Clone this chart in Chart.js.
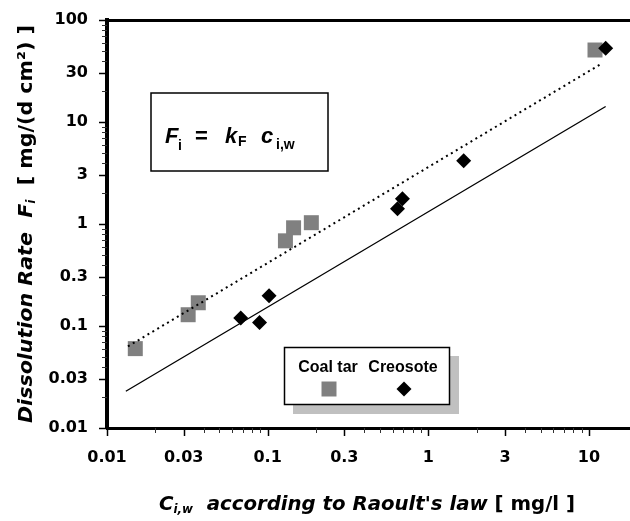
<!DOCTYPE html>
<html>
<head>
<meta charset="utf-8">
<script src="https://cdn.jsdelivr.net/npm/chart.js@4/dist/chart.umd.min.js"></script>
<style>
  html, body { margin: 0; padding: 0; background: #fff; }
  canvas { display: block; }
</style>
</head>
<body>
<canvas id="c" width="630" height="521"></canvas>
<script>
// Measured dissolution rates vs. aqueous concentration (Raoult's law)
const coalTarC  = [0.015, 0.032, 0.037, 0.129, 0.145, 0.187, 10.9];
const coalTarF  = [0.060, 0.129, 0.169, 0.684, 0.918, 1.03, 50.8];
const creosoteC = [0.068, 0.089, 0.102, 0.643, 0.69, 1.66, 12.7];
const creosoteF = [0.120, 0.108, 0.198, 1.41, 1.77, 4.16, 52.8];

// Fitted lines F = kF * c (end points)
const coalTarFitC  = [0.0135, 12.1];
const coalTarFitF  = [0.0631, 37.7];
const creosoteFitC = [0.0131, 12.7];
const creosoteFitF = [0.0229, 14.2];

const xRange = [0.01, 18];
const yRange = [0.01, 100];
const labelledMantissas = [1, 3];
const seriesNames = ['Coal tar', 'Creosote'];

const pts = (xs, ys) => xs.map((x, i) => ({ x, y: ys[i] }));

function logTicks(min, max) {
  const out = [];
  for (let e = Math.floor(Math.log10(min)); e <= Math.ceil(Math.log10(max)); e++) {
    for (let m = 1; m <= 9; m++) {
      const v = +(m * Math.pow(10, e)).toPrecision(6);
      if (v >= min * 0.999 && v <= max * 1.001) out.push({ value: v });
    }
  }
  return out;
}
function mantissa(v) { return Math.round(v / Math.pow(10, Math.floor(Math.log10(v) + 1e-9))); }
function isMajor(v) { return labelledMantissas.includes(mantissa(v)); }
function fmt(v) { return v >= 1 ? String(Math.round(v)) : String(+v.toPrecision(1)); }

const tickFont = { family: 'DejaVu Sans', weight: 'bold', size: 16 };

// Draw a run of differently styled text pieces, stretched to a given length
function drawRun(ctx, x, y, parts, length, vertical) {
  let natural = 0;
  parts.forEach(p => { ctx.font = p.font; p.w = ctx.measureText(p.text).width; natural += p.w; });
  ctx.save();
  ctx.translate(x, y);
  if (vertical) ctx.rotate(-Math.PI / 2);
  ctx.scale(length / natural, 1);
  ctx.fillStyle = '#000';
  ctx.textBaseline = 'alphabetic';
  ctx.textAlign = 'left';
  let cx = 0;
  parts.forEach(p => { ctx.font = p.font; ctx.fillText(p.text, cx, p.dy || 0); cx += p.w; });
  ctx.restore();
}

function drawMarker(ctx, ds, x, y) {
  const r = ds.pointRadius;
  ctx.fillStyle = ds.backgroundColor;
  ctx.beginPath();
  if (ds.pointStyle === 'rect') {
    const s = Math.SQRT1_2 * r;
    ctx.rect(x - s, y - s, 2 * s, 2 * s);
  } else {
    ctx.moveTo(x, y - r); ctx.lineTo(x + r, y); ctx.lineTo(x, y + r); ctx.lineTo(x - r, y);
    ctx.closePath();
  }
  ctx.fill();
}

// keep the plot area fixed regardless of label overhang
function noPadding(s) {
  s.paddingLeft = 0; s.paddingRight = 0; s.paddingTop = 0; s.paddingBottom = 0;
}

const decorations = {
  id: 'decorations',
  afterDraw(chart) {
    const { ctx, chartArea: a, scales: { x, y } } = chart;
    ctx.save();

    // tick marks: long for labelled values, short for the others
    x.ticks.forEach(t => {
      const p = Math.round(x.getPixelForValue(t.value)) + 0.5;
      const major = isMajor(t.value);
      ctx.strokeStyle = major ? '#000' : '#333';
      ctx.lineWidth = major ? 1.5 : 1;
      ctx.beginPath();
      ctx.moveTo(p, a.bottom);
      ctx.lineTo(p, a.bottom + (major ? 8 : 5));
      ctx.stroke();
    });
    y.ticks.forEach(t => {
      const p = Math.round(y.getPixelForValue(t.value)) + 0.5;
      const major = isMajor(t.value);
      ctx.strokeStyle = major ? '#000' : '#333';
      ctx.lineWidth = major ? 1.5 : 1;
      ctx.beginPath();
      ctx.moveTo(a.left, p);
      ctx.lineTo(a.left - (major ? 8 : 5), p);
      ctx.stroke();
    });

    // equation box
    ctx.strokeStyle = '#000';
    ctx.lineWidth = 1.5;
    ctx.strokeRect(151, 93, 177, 78);
    ctx.fillStyle = '#000';
    ctx.textBaseline = 'alphabetic';
    const big = 'italic bold 22px "Liberation Sans", Arial, sans-serif';
    const bigUp = 'bold 22px "Liberation Sans", Arial, sans-serif';
    const sub = 'bold 14px "Liberation Sans", Arial, sans-serif';
    ctx.font = big;   ctx.fillText('F', 165, 143);
    ctx.font = sub;   ctx.fillText('i', 178, 150);
    ctx.font = bigUp; ctx.fillText('=', 195, 143);
    ctx.font = big;   ctx.fillText('k', 225, 143);
    ctx.font = sub;   ctx.fillText('F', 238, 146);
    ctx.font = big;   ctx.fillText('c', 261, 143);
    ctx.font = sub;   ctx.fillText('i,w', 276, 149);

    // legend with drop shadow
    ctx.fillStyle = '#c0c0c0';
    ctx.fillRect(293, 356, 166, 58);
    ctx.fillStyle = '#fff';
    ctx.fillRect(284, 347, 166, 58);
    ctx.strokeStyle = '#000';
    ctx.lineWidth = 1.5;
    ctx.strokeRect(284.5, 347.5, 165, 57);
    ctx.fillStyle = '#000';
    ctx.font = 'bold 16px "Liberation Sans", Arial, sans-serif';
    ctx.textAlign = 'center';
    const tarDs = chart.data.datasets.find(d => d.label === seriesNames[0]);
    const creoDs = chart.data.datasets.find(d => d.label === seriesNames[1]);
    ctx.fillText(seriesNames[0], 328, 372);
    ctx.fillText(seriesNames[1], 403, 372);
    drawMarker(ctx, tarDs, 329, 389);
    drawMarker(ctx, creoDs, 404, 389);
    ctx.restore();

    // axis titles
    const ti = 'italic bold 20px "DejaVu Sans", sans-serif';
    const tn = 'bold 20px "DejaVu Sans", sans-serif';
    const ts = 'italic bold 12px "DejaVu Sans", sans-serif';
    drawRun(ctx, 159, 510, [
      { text: 'C', font: ti },
      { text: 'i,w', font: ts, dy: 3 },
      { text: '  according to Raoult\'s law ', font: ti },
      { text: '[ mg/l ]', font: tn }
    ], 416, false);
    drawRun(ctx, 32, 423, [
      { text: 'Dissolution Rate  F', font: ti },
      { text: 'i', font: ts, dy: 3 },
      { text: '  [ mg/(d cm\u00B2) ]', font: tn }
    ], 398, true);
  }
};

new Chart(document.getElementById('c'), {
  type: 'scatter',
  data: {
    datasets: [
      { label: 'Coal tar fit', data: pts(coalTarFitC, coalTarFitF), showLine: true, pointRadius: 0,
        borderColor: '#000', borderWidth: 2, borderDash: [2, 3.7], order: 0 },
      { label: 'Creosote fit', data: pts(creosoteFitC, creosoteFitF), showLine: true, pointRadius: 0,
        borderColor: '#000', borderWidth: 1.3, order: 0 },
      { label: seriesNames[1], data: pts(creosoteC, creosoteF), pointStyle: 'rectRot', pointRadius: 7.5,
        backgroundColor: '#000', borderWidth: 0, order: 1 },
      { label: seriesNames[0], data: pts(coalTarC, coalTarF), pointStyle: 'rect', pointRadius: 10.6,
        backgroundColor: '#808080', borderWidth: 0, order: 2 }
    ]
  },
  options: {
    responsive: false,
    animation: false,
    devicePixelRatio: 1,
    layout: { padding: 0, autoPadding: false },
    plugins: { legend: { display: false }, tooltip: { enabled: false } },
    scales: {
      x: {
        type: 'logarithmic', position: 'bottom', min: xRange[0], max: xRange[1],
        afterBuildTicks: s => { s.ticks = logTicks(xRange[0], xRange[1]); },
        afterFit: s => { s.height = 93; noPadding(s); },
        ticks: { autoSkip: false, maxRotation: 0, padding: 13, color: '#000', font: tickFont,
                 callback: v => isMajor(v) ? fmt(v) : '' },
        grid: { drawOnChartArea: false, tickLength: 7, tickColor: 'rgba(0,0,0,0)' },
        border: { color: '#000', width: 3 }
      },
      xTop: {
        type: 'logarithmic', position: 'top', min: xRange[0], max: xRange[1],
        afterFit: s => { s.height = 20; noPadding(s); },
        ticks: { display: false },
        grid: { drawOnChartArea: false, drawTicks: false },
        border: { color: '#000', width: 3 }
      },
      y: {
        type: 'logarithmic', position: 'left', min: yRange[0], max: yRange[1],
        afterBuildTicks: s => { s.ticks = logTicks(yRange[0], yRange[1]); },
        afterFit: s => { s.width = 107; noPadding(s); },
        ticks: { autoSkip: false, padding: 12, color: '#000', font: tickFont,
                 callback: v => isMajor(v) ? fmt(v) : '' },
        grid: { drawOnChartArea: false, tickLength: 7, tickColor: 'rgba(0,0,0,0)' },
        border: { color: '#000', width: 4 }
      }
    }
  },
  plugins: [decorations]
});
</script>
</body>
</html>
